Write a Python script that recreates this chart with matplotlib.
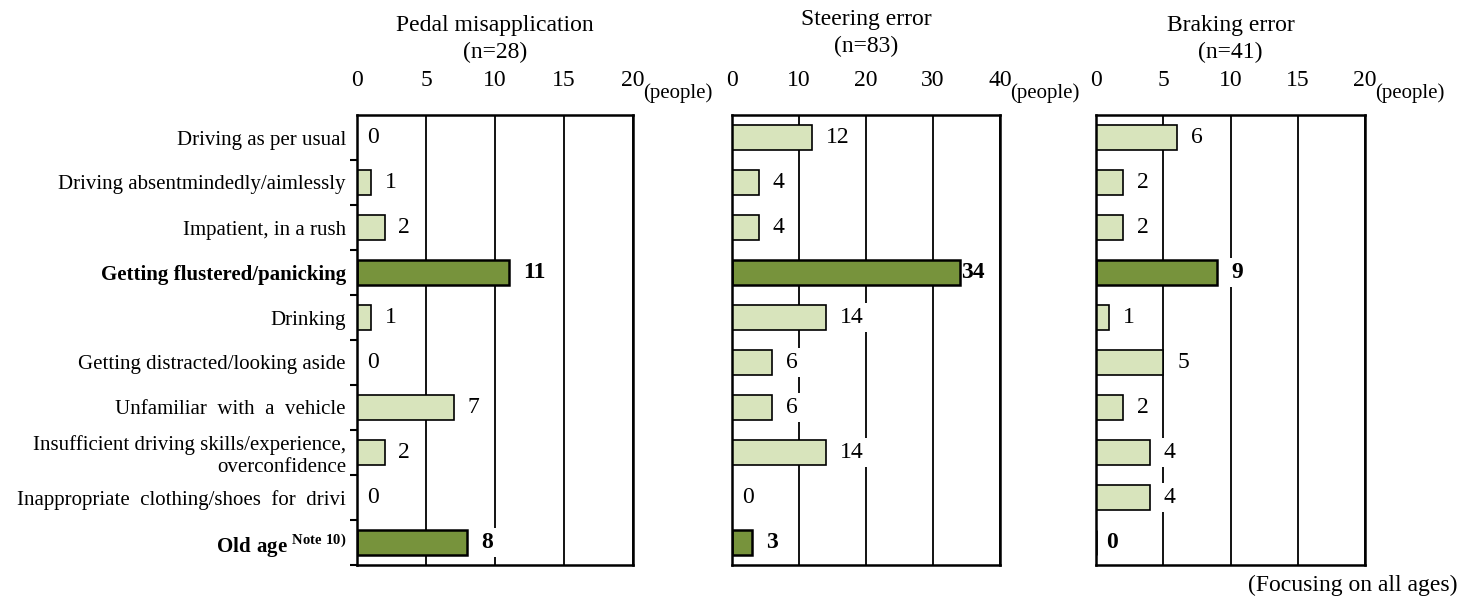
#!/usr/bin/env python3
"""Human factors by accident type: three horizontal bar panels."""
import matplotlib
matplotlib.use("Agg")
import matplotlib.pyplot as plt
from matplotlib.ticker import MultipleLocator, FixedLocator

plt.rcParams["font.family"] = ["Liberation Serif", "DejaVu Serif"]
plt.rcParams["mathtext.fontset"] = "custom"
plt.rcParams["mathtext.rm"] = "Liberation Serif"
plt.rcParams["mathtext.bf"] = "Liberation Serif:bold"

categories = [
    "Driving as per usual",
    "Driving absentmindedly/aimlessly",
    "Impatient, in a rush",
    "Getting flustered/panicking",
    "Drinking",
    "Getting distracted/looking aside",
    "Unfamiliar  with  a  vehicle",
    "Insufficient driving skills/experience,\noverconfidence",
    "Inappropriate  clothing/shoes  for  drivi",
    r"$\mathbf{Old\ age}^{\mathbf{\ Note\ 10)}}$",
]
highlight = [False, False, False, True, False, False, False, False, False, True]

pedal = [0, 1, 2, 11, 1, 0, 7, 2, 0, 8]
steering = [12, 4, 4, 34, 14, 6, 6, 14, 0, 3]
braking = [6, 2, 2, 9, 1, 5, 2, 4, 4, 0]

titles = ["Pedal misapplication\n(n=28)", "Steering error\n(n=83)", "Braking error\n(n=41)"]
x_max = [20, 40, 20]
x_step = [5, 10, 5]

LIGHT = "#D8E4BC"
DARK = "#77933C"

W, H = 1472, 601
fig = plt.figure(figsize=(W / 100, H / 100), dpi=100)

# panel boxes in pixels: left, right, top, bottom
boxes = [(357, 633, 115, 565), (732, 1000, 115, 565), (1096, 1365, 115, 565)]
title_off = [76, 82, 76]  # px above the box

for k, (vals, box) in enumerate(zip([pedal, steering, braking], boxes)):
    l, r, t, b = box
    ax = fig.add_axes([l / W, 1 - b / H, (r - l) / W, (b - t) / H])
    ypos = list(range(len(vals)))
    colors = [DARK if h else LIGHT for h in highlight]
    lws = [1.8 if h else 1.2 for h in highlight]
    ax.barh(ypos, vals, height=0.54, color=colors, edgecolor="black",
            linewidth=lws, zorder=2)

    ax.set_xlim(0, x_max[k])
    ax.set_ylim(len(vals) - 0.5, -0.5)
    ax.xaxis.set_major_locator(MultipleLocator(x_step[k]))
    ax.xaxis.tick_top()
    ax.tick_params(axis="x", length=0, pad=17, labelsize=17)
    ax.xaxis.grid(True, color="black", linewidth=1.3)
    ax.set_axisbelow(True)
    for s in ax.spines.values():
        s.set_linewidth(1.8)
        s.set_zorder(4)

    if k == 0:
        ax.set_yticks(ypos)
        ax.set_yticklabels(categories, fontsize=15)
        for lab, h in zip(ax.get_yticklabels(), highlight):
            if h:
                lab.set_fontweight("bold")
        ax.tick_params(axis="y", which="major", length=0, pad=8)
        ax.yaxis.set_minor_locator(FixedLocator([i + 0.5 for i in range(len(vals))]))
        ax.tick_params(axis="y", which="minor", length=5, width=1.5, direction="out")
    else:
        ax.set_yticks([])

    for i, v in enumerate(vals):
        box_style = dict(fc="white", ec="none", pad=3)
        if v == 0:
            off = 7
        elif v > 0.8 * x_max[k]:
            off = 1
            box_style = None
        else:
            off = 10
        ax.annotate(str(v), xy=(v, i), xytext=(off, 0), textcoords="offset points",
                    ha="left", va="center", fontsize=17,
                    fontweight="bold" if highlight[i] else "normal",
                    bbox=box_style, zorder=3)

    ax.annotate("(people)", xy=(1, 1), xycoords="axes fraction",
                xytext=(7, 16), textcoords="offset points",
                ha="left", va="center", fontsize=15)
    ax.annotate(titles[k], xy=(0.5, 1), xycoords="axes fraction",
                xytext=(0, title_off[k] * 0.72), textcoords="offset points",
                ha="center", va="center", fontsize=17, linespacing=1.35)

fig.text(1457 / W, 1 - 585 / H, "(Focusing on all ages)", ha="right", va="center",
         fontsize=17)

fig.savefig("out.png", dpi=100)
